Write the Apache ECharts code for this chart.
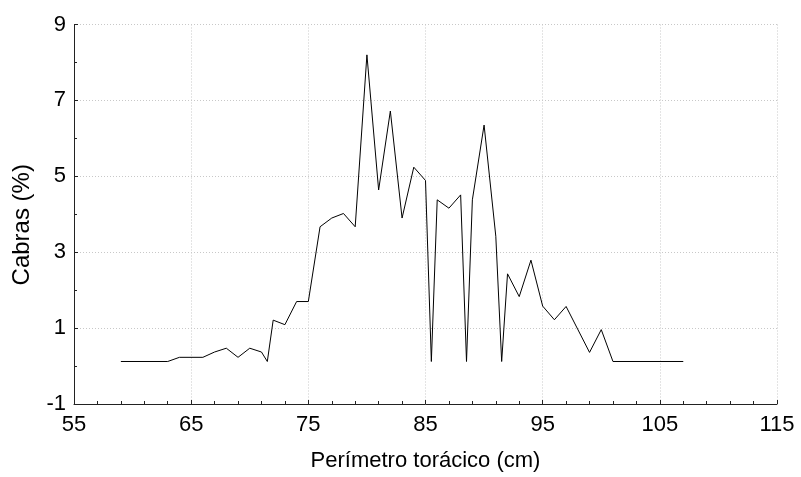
<!DOCTYPE html>
<html>
<head>
<meta charset="utf-8">
<script src="https://cdn.jsdelivr.net/npm/echarts@6/dist/echarts.min.js"></script>
<style>
html,body{margin:0;padding:0;background:#fff;}
#chart{width:801px;height:477px;}
</style>
</head>
<body>
<div id="chart"></div>
<script>
// Perímetro torácico (cm)
const perimetro = [59, 63, 64, 66, 67, 68, 69, 70, 71, 71.5, 72, 73, 74, 75, 76, 77, 78, 79, 80, 81, 82, 83, 84, 85, 85.5, 86, 87, 88, 88.5, 89, 90, 91, 91.5, 92, 93, 94, 95, 96, 97, 99, 100, 101, 107];
// Cabras (%)
const cabras = [0.12, 0.12, 0.23, 0.23, 0.37, 0.47, 0.23, 0.47, 0.37, 0.12, 1.21, 1.09, 1.70, 1.70, 3.67, 3.90, 4.02, 3.67, 8.20, 4.64, 6.72, 3.90, 5.24, 4.89, 0.12, 4.38, 4.16, 4.51, 0.12, 4.38, 6.35, 3.42, 0.12, 2.43, 1.83, 2.79, 1.58, 1.22, 1.57, 0.36, 0.96, 0.12, 0.12];
const xTicks = [55, 65, 75, 85, 95, 105, 115];
const yTicks = [-1, 1, 3, 5, 7, 9];

const FONT = 'Liberation Sans, Arial, sans-serif';
const points = perimetro.map((x, i) => [x, cabras[i]]);

const chart = echarts.init(document.getElementById('chart'), null, {renderer: 'canvas'});
chart.setOption({
  animation: false,
  backgroundColor: '#ffffff',
  grid: {left: 74, right: 24, top: 24.5, bottom: 72, containLabel: false},
  xAxis: {
    type: 'value',
    min: xTicks[0], max: xTicks[xTicks.length - 1], interval: 10,
    name: 'Perímetro torácico (cm)',
    nameLocation: 'middle', nameGap: 46,
    nameTextStyle: {fontFamily: FONT, fontSize: 22, color: '#000'},
    axisLine: {show: true, onZero: false, lineStyle: {color: '#222', width: 1}},
    axisTick: {show: true, inside: true, length: 4, lineStyle: {color: '#222'}},
    minorTick: {show: true, splitNumber: 5, length: 3, lineStyle: {color: '#222'}},
    axisLabel: {fontFamily: FONT, fontSize: 22, color: '#000', margin: 10},
    splitLine: {show: true, lineStyle: {color: '#c8c8c8', type: [1, 2], width: 1}}
  },
  yAxis: {
    type: 'value',
    min: yTicks[0], max: yTicks[yTicks.length - 1], interval: 2,
    name: 'Cabras (%)',
    nameLocation: 'middle', nameGap: 40,
    nameTextStyle: {fontFamily: FONT, fontSize: 24, color: '#000', padding: [0, 21, 0, 0]},
    axisLine: {show: true, onZero: false, lineStyle: {color: '#222', width: 1}},
    axisTick: {show: true, inside: true, length: 4, lineStyle: {color: '#222'}},
    minorTick: {show: true, splitNumber: 2, length: 3, lineStyle: {color: '#222'}},
    axisLabel: {fontFamily: FONT, fontSize: 22, color: '#000', margin: 8},
    splitLine: {show: true, lineStyle: {color: '#c8c8c8', type: [1, 2], width: 1}}
  },
  series: [{
    type: 'line',
    data: points,
    showSymbol: false,
    symbol: 'none',
    lineStyle: {color: '#000', width: 1},
    silent: true
  }]
});
</script>
</body>
</html>
